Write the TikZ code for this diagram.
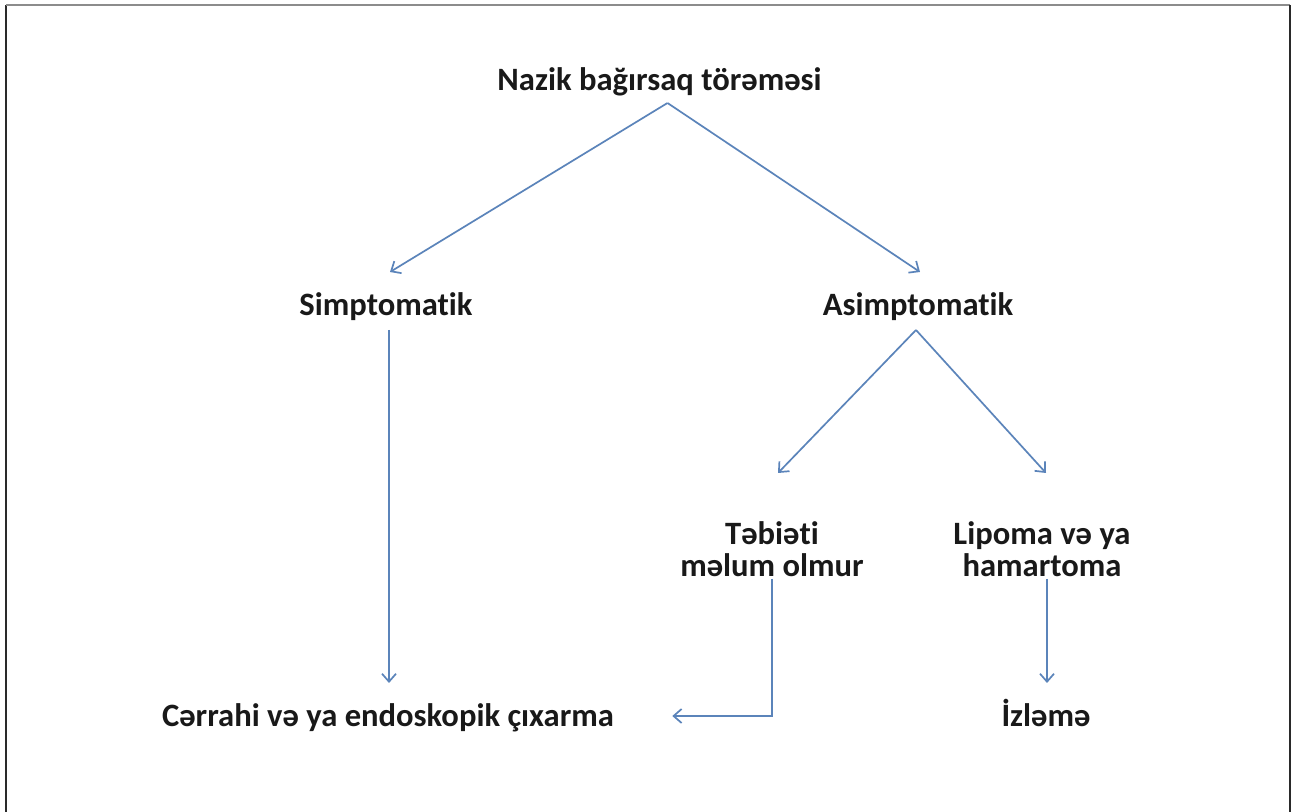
\documentclass[tikz,border=0pt]{standalone}
\usepackage{fontspec}
\setmainfont{Carlito}[Ligatures=NoCommon]
\usetikzlibrary{arrows.meta,calc}
\definecolor{arrblue}{HTML}{5B84BA}
\definecolor{framegray}{HTML}{2A2A2A}
\begin{document}
\begin{tikzpicture}[x=0.5pt,y=-0.5pt,
  lbl/.style={inner sep=0pt,font=\fontsize{16.3}{16}\selectfont\bfseries,align=center,text=black!90},
  arr/.style={draw=arrblue,line width=0.85pt,-{Straight Barb[length=4pt,width=7pt]}}]
\useasboundingbox (0,0) rectangle (1292,812);
\fill[white] (0,0) rectangle (1292,812);
% frame
\draw[framegray,line width=0.9pt] (6,812) -- (6,5);
\draw[black!45,line width=0.9pt] (6,5) -- (1290,5);
\draw[framegray,line width=0.9pt] (1290,5) -- (1290,812);
% nodes
\node[lbl,anchor=base] (title) at (659.5,90.5) {Nazik bağırsaq törəməsi};
\node[lbl,anchor=base] (simp) at (386,315.5) {Simptomatik};
\node[lbl,anchor=base] (asim) at (918,315.5) {Asimptomatik};
\node[lbl] (tab) at (772,549) {Təbiəti\\məlum olmur};
\node[lbl] (lip) at (1042,549) {Lipoma və ya\\hamartoma};
\node[lbl,anchor=base] (cerr) at (388,726.5) {Cərrahi və ya endoskopik çıxarma};
\node[lbl,anchor=base] (izl) at (1046,726.5) {İzləmə};
% connectors
\coordinate (apex1) at ($(title.base)+(8,12.5)$);
\draw[arr] (apex1) -- ($(simp.base)+(4,-43.5)$);
\draw[arr] (apex1) -- ($(asim.base)+(2,-43.5)$);
\draw[arr] ($(simp.base)+(3,14.5)$) -- ($(cerr.base)+(1,-43.5)$);
\coordinate (apex2) at ($(asim.base)+(-2,14.5)$);
\draw[arr] (apex2) -- ($(tab.center)+(6,-76)$);
\draw[arr] (apex2) -- ($(lip.center)+(4,-76)$);
\draw[arr] ($(tab.center)+(0,30)$) |- ($(cerr.base east)+(58,-10.5)$);
\draw[arr] ($(lip.center)+(5,30)$) -- ($(izl.base)+(1,-43.5)$);
\end{tikzpicture}
\end{document}
